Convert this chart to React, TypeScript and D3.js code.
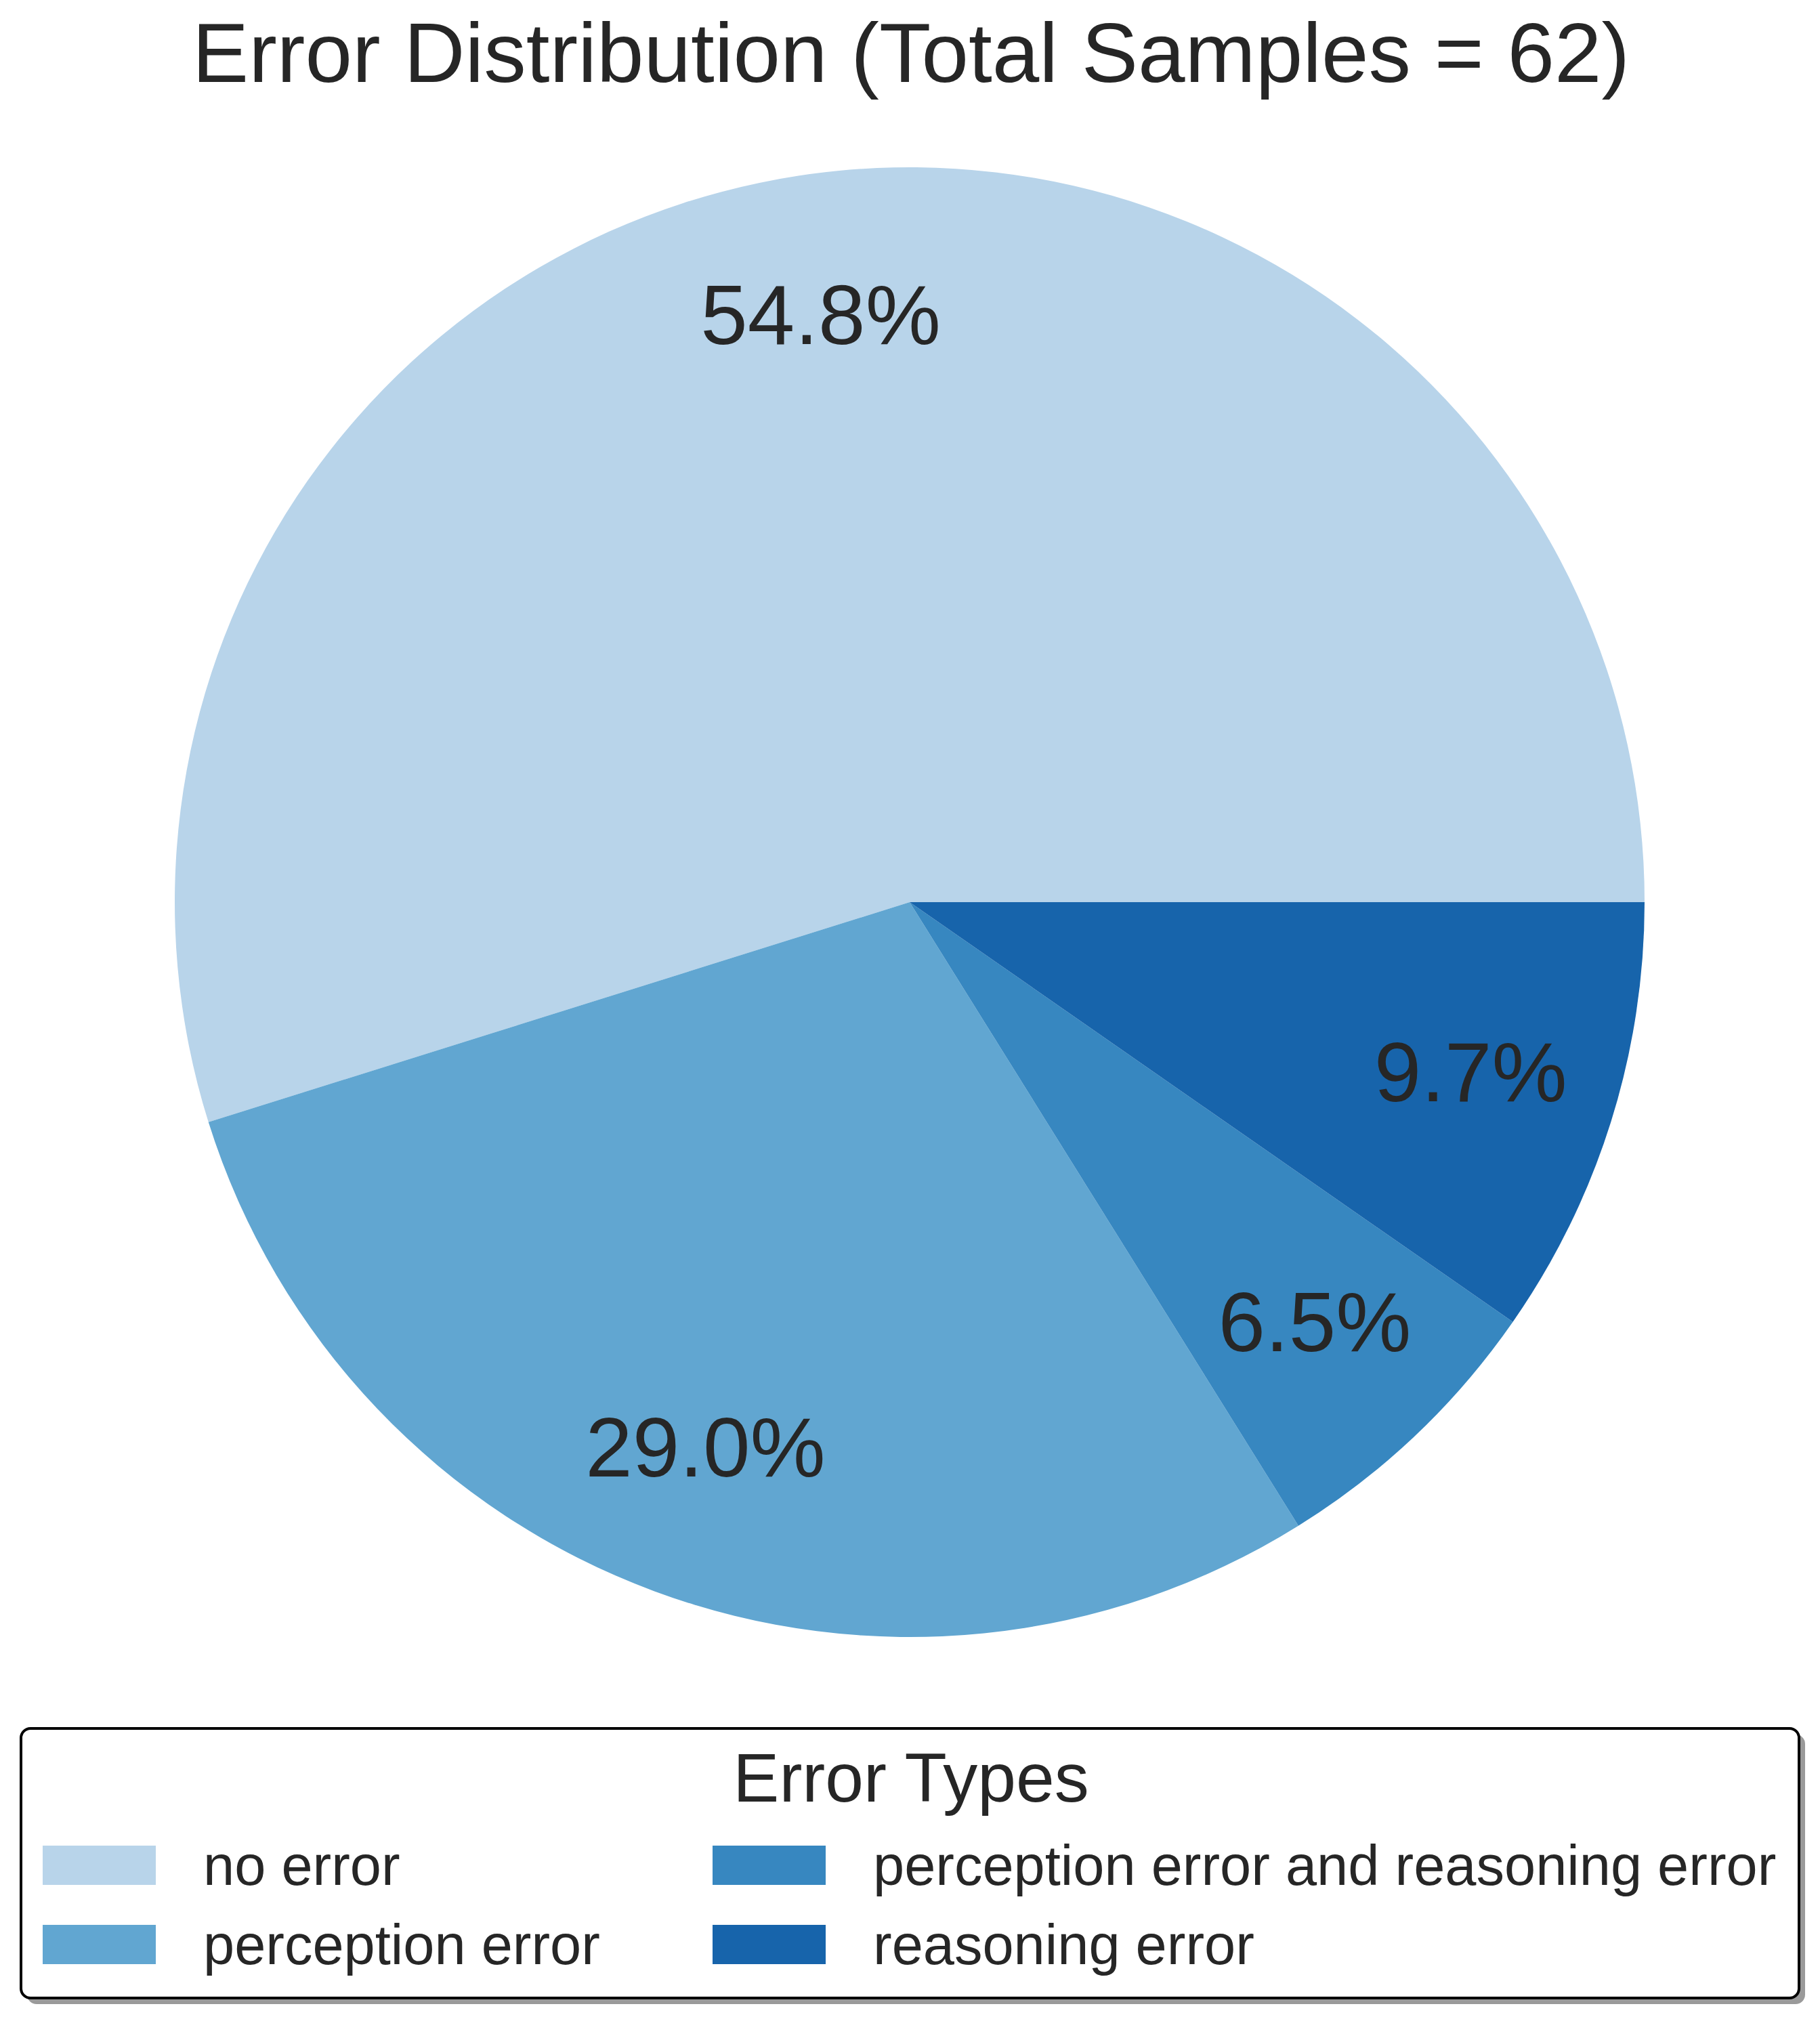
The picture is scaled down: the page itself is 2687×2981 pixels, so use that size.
import React, { useEffect, useRef } from 'react';
import * as d3 from 'd3';

const categories = ['no error', 'perception error', 'perception error and reasoning error', 'reasoning error'];
const counts = [34, 18, 4, 6];
const colors = ['#b8d4ea', '#61a6d1', '#3787c0', '#1764ab'];
const chartTitle = 'Error Distribution (Total Samples = 62)';
const legendTitle = 'Error Types';

const width = 2687;
const height = 2981;
const font = 'Liberation Sans, Arial, sans-serif';
const textColor = '#262626';

export default function App() {
    const svgRef = useRef<SVGSVGElement | null>(null);

    useEffect(() => {
        const svg = d3.select(svgRef.current);
        svg.selectAll('*').remove();

        const cx = 1343;
        const cy = 1332;
        const radius = 1085;
        const total = d3.sum(counts);

        svg.append('text')
            .attr('x', 1345)
            .attr('y', 121)
            .attr('text-anchor', 'middle')
            .attr('font-family', font)
            .attr('font-size', 125)
            .attr('fill', textColor)
            .text(chartTitle);

        // matplotlib style: start at 3 o'clock, go counterclockwise
        const pie = d3.pie<number>()
            .sort(null)
            .startAngle(Math.PI / 2)
            .endAngle(Math.PI / 2 - 2 * Math.PI);

        const arcs = pie(counts);
        const arc = d3.arc<d3.PieArcDatum<number>>().innerRadius(0).outerRadius(radius);
        const labelArc = d3.arc<d3.PieArcDatum<number>>().innerRadius(radius * 0.8).outerRadius(radius * 0.8);

        const g = svg.append('g').attr('transform', `translate(${cx},${cy})`);

        g.selectAll('.slice')
            .data(arcs)
            .enter()
            .append('path')
            .attr('class', 'slice')
            .attr('d', arc)
            .attr('fill', (d, i) => colors[i]);

        g.selectAll('.pct')
            .data(arcs)
            .enter()
            .append('text')
            .attr('class', 'pct')
            .attr('x', d => labelArc.centroid(d)[0])
            .attr('y', d => labelArc.centroid(d)[1] + 125 * 0.27)
            .attr('text-anchor', 'middle')
            .attr('font-family', font)
            .attr('font-size', 125)
            .attr('fill', textColor)
            .text(d => (d.value / total * 100).toFixed(1) + '%');

        // legend
        const lx = 31, ly = 2552, lw = 2625, lh = 398;
        const legend = svg.append('g');

        legend.append('rect')
            .attr('x', lx + 9)
            .attr('y', ly + 9)
            .attr('width', lw)
            .attr('height', lh)
            .attr('rx', 14)
            .attr('fill', '#9a9a9a');

        legend.append('rect')
            .attr('x', lx)
            .attr('y', ly)
            .attr('width', lw)
            .attr('height', lh)
            .attr('rx', 14)
            .attr('fill', 'white')
            .attr('stroke', 'black')
            .attr('stroke-width', 4);

        legend.append('text')
            .attr('x', 1345)
            .attr('y', 2660)
            .attr('text-anchor', 'middle')
            .attr('font-family', font)
            .attr('font-size', 102)
            .attr('fill', textColor)
            .text(legendTitle);

        const colX = d3.scalePoint<number>().domain([0, 1]).range([63, 1052]);
        const rowY = d3.scalePoint<number>().domain([0, 1]).range([2725, 2842]);

        const items = legend.selectAll('.item')
            .data(categories)
            .enter()
            .append('g')
            .attr('class', 'item')
            .attr('transform', (d, i) => `translate(${colX(Math.floor(i / 2))},${rowY(i % 2)})`);

        items.append('rect')
            .attr('width', 167)
            .attr('height', 58)
            .attr('fill', (d, i) => colors[i]);

        items.append('text')
            .attr('x', 237)
            .attr('y', 58)
            .attr('font-family', font)
            .attr('font-size', 83)
            .attr('fill', textColor)
            .text(d => d);
    }, []);

    return (
        <div style={{ position: 'absolute', left: 0, top: 0, background: 'white' }}>
            <svg ref={svgRef} width={width} height={height} viewBox={`0 0 ${width} ${height}`} style={{ display: 'block' }} />
        </div>
    );
}
